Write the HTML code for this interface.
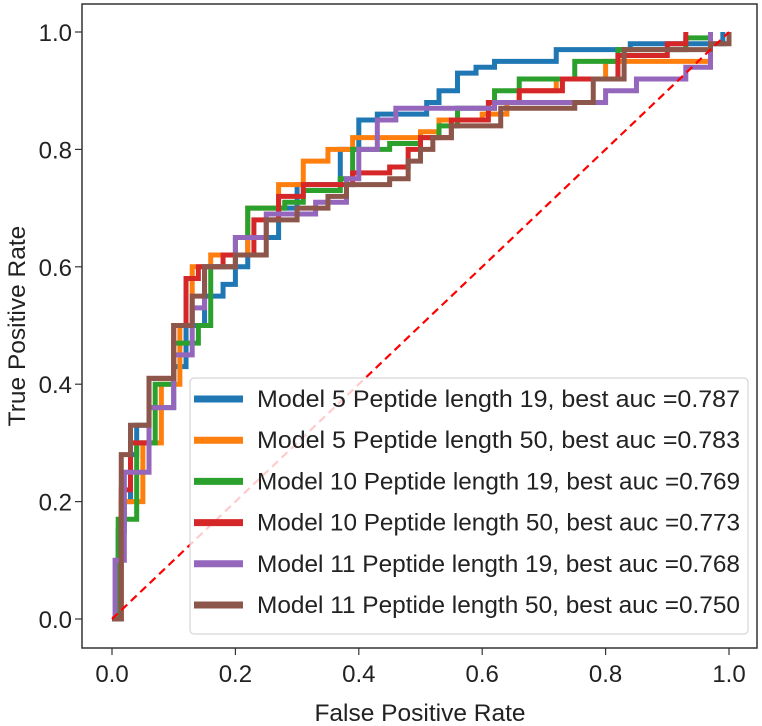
<!DOCTYPE html>
<html><head><meta charset="utf-8"><style>
body{margin:0;background:#fff;}
svg{display:block;font-family:"Liberation Sans","DejaVu Sans",sans-serif;}
</style></head><body>
<svg id="chart" width="762" height="726" viewBox="0 0 762 726">
<rect x="82" y="4" width="675" height="644" fill="#fff" stroke="#333" stroke-width="1.5"/>
<g id="ticks"></g>
<g id="series"></g>
<text x="420" y="721" text-anchor="middle" font-size="24.5" fill="#222">False Positive Rate</text>
<text transform="translate(25,326) rotate(-90)" text-anchor="middle" font-size="24.5" fill="#222">True Positive Rate</text>
<g id="legend"></g>
</svg>
<script>
const tickVals=[0,0.2,0.4,0.6,0.8,1.0];
const tickLabels=["0.0","0.2","0.4","0.6","0.8","1.0"];
const seriesNames=["Model 5 Peptide length 19, best auc =0.787","Model 5 Peptide length 50, best auc =0.783","Model 10 Peptide length 19, best auc =0.769","Model 10 Peptide length 50, best auc =0.773","Model 11 Peptide length 19, best auc =0.768","Model 11 Peptide length 50, best auc =0.750"];
const seriesColors=["#1f77b4","#ff7f0e","#2ca02c","#d62728","#9467bd","#8c564b"];
const fpr0=[0,0.01,0.01,0.02,0.03,0.04,0.06,0.1,0.12,0.15,0.18,0.2,0.22,0.27,0.3,0.37,0.4,0.43,0.51,0.53,0.56,0.59,0.62,0.72,0.84,0.99];
const tpr0=[0,0.03,0.15,0.2,0.28,0.33,0.36,0.43,0.5,0.55,0.57,0.6,0.65,0.7,0.74,0.8,0.85,0.86,0.88,0.9,0.93,0.94,0.95,0.97,0.98,1.0];
const fpr1=[0,0.015,0.05,0.08,0.11,0.13,0.16,0.22,0.27,0.31,0.35,0.39,0.5,0.53,0.6,0.64,0.66,0.72,0.8,0.97];
const tpr1=[0,0.2,0.3,0.4,0.5,0.6,0.62,0.7,0.74,0.78,0.8,0.82,0.83,0.85,0.86,0.88,0.9,0.92,0.95,1.0];
const fpr2=[0,0.01,0.04,0.07,0.1,0.14,0.16,0.2,0.22,0.28,0.31,0.37,0.39,0.45,0.5,0.53,0.56,0.62,0.66,0.75,0.82,0.93,0.97];
const tpr2=[0,0.17,0.3,0.4,0.47,0.5,0.6,0.65,0.7,0.71,0.73,0.75,0.8,0.81,0.82,0.84,0.87,0.9,0.92,0.95,0.97,0.99,1.0];
const fpr3=[0,0.015,0.03,0.06,0.1,0.12,0.14,0.18,0.23,0.27,0.31,0.39,0.45,0.48,0.5,0.55,0.61,0.66,0.73,0.82,0.9,0.93];
const tpr3=[0,0.22,0.3,0.41,0.5,0.58,0.6,0.62,0.68,0.72,0.74,0.76,0.77,0.8,0.82,0.85,0.88,0.9,0.92,0.96,0.98,1.0];
const fpr4=[0,0.005,0.02,0.06,0.1,0.13,0.15,0.2,0.25,0.33,0.38,0.4,0.43,0.46,0.62,0.8,0.85,0.93,0.97];
const tpr4=[0,0.1,0.25,0.36,0.45,0.53,0.6,0.65,0.69,0.71,0.75,0.8,0.85,0.87,0.88,0.9,0.92,0.94,1.0];
const fpr5=[0,0.015,0.03,0.06,0.1,0.13,0.15,0.2,0.25,0.3,0.35,0.38,0.45,0.48,0.5,0.52,0.55,0.63,0.75,0.78,0.83,0.97,1.0];
const tpr5=[0,0.28,0.33,0.41,0.5,0.55,0.6,0.62,0.68,0.7,0.72,0.74,0.75,0.78,0.8,0.82,0.84,0.87,0.88,0.92,0.97,0.98,1.0];
const allFpr=[fpr0,fpr1,fpr2,fpr3,fpr4,fpr5];
const allTpr=[tpr0,tpr1,tpr2,tpr3,tpr4,tpr5];
const NS="http://www.w3.org/2000/svg";
const X0=112,X1=729,Y0=619,Y1=32;
const xs=v=>X0+v*(X1-X0), ys=v=>Y0-v*(Y0-Y1);
function mk(tag,attrs,parent){const e=document.createElementNS(NS,tag);for(const k in attrs)e.setAttribute(k,attrs[k]);parent.appendChild(e);return e;}
const tg=document.getElementById('ticks');
tickVals.forEach((v,i)=>{
  let l=mk('line',{x1:xs(v),x2:xs(v),y1:648,y2:655,stroke:'#333','stroke-width':1.2},tg);
  
  
  let t=mk('text',{x:xs(v),y:682,'text-anchor':'middle','font-size':24,fill:'#222'},tg);t.textContent=tickLabels[i];
  
  
  let l2=mk('line',{x1:75,x2:82,y1:ys(v),y2:ys(v),stroke:'#333','stroke-width':1.2},tg);
  
  
  let t2=mk('text',{x:72,y:ys(v)+9,'text-anchor':'end','font-size':24,fill:'#222'},tg);t2.textContent=tickLabels[i];
  
  
});
const sg=document.getElementById('series');
allFpr.forEach((f,s)=>{
  const t=allTpr[s];
  let d='M'+xs(f[0])+' '+ys(t[0]);
  for(let i=1;i<f.length;i++){d+=' H'+xs(f[i])+' V'+ys(t[i]);}
  let p=mk('path',{d:d,fill:'none',stroke:seriesColors[s],'stroke-width':5,'stroke-linejoin':'miter'},sg);
  
  
});
let diag=mk('line',{x1:xs(0),y1:ys(0),x2:xs(1),y2:ys(1),stroke:'#f00','stroke-width':2.2,'stroke-dasharray':'8,5'},sg);


const lg=document.getElementById('legend');
let box=mk('rect',{x:190,y:378,width:558,height:256,rx:4,fill:'#fff','fill-opacity':0.8,stroke:'#ccc','stroke-width':1},lg);


seriesNames.forEach((n,i)=>{
  const y=399+i*41.2;
  let l=mk('line',{x1:194,x2:243,y1:y,y2:y,stroke:seriesColors[i],'stroke-width':7},lg);
  
  
  let t=mk('text',{x:257,y:y+8,'font-size':24,fill:'#222',textLength:483,lengthAdjust:'spacingAndGlyphs'},lg);t.textContent=n;
  
  
});
</script>
</body></html>
